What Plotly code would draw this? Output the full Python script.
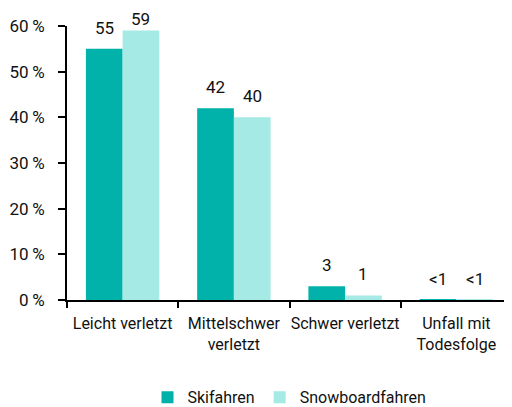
import plotly.graph_objects as go

categories = ["Leicht verletzt", "Mittelschwer<br>verletzt", "Schwer verletzt", "Unfall mit<br>Todesfolge"]
ski_values = [55, 42, 3, 0.1]
snow_values = [59, 40, 1, 0.1]
ski_labels = ["55", "42", "3", "<1"]
snow_labels = ["59", "40", "1", "<1"]
y_ticks = [0, 10, 20, 30, 40, 50, 60]

FONT = "Roboto, sans-serif"
SKI_COLOR = "#00B2A9"
SNOW_COLOR = "#A5EAE4"

FIG_W, FIG_H = 504, 399
M_L, M_R, M_T, M_B = 59, 0, 18, 107
Y_MAX = 60
BARGAP = 0.34

fig = go.Figure()
fig.add_trace(go.Bar(name="Skifahren", x=categories, y=ski_values,
                     marker_color=SKI_COLOR, marker_line_width=0))
fig.add_trace(go.Bar(name="Snowboardfahren", x=categories, y=snow_values,
                     marker_color=SNOW_COLOR, marker_line_width=0))

# value labels above the bars (offset to each bar of the group)
plot_w = FIG_W - M_L - M_R
plot_h = FIG_H - M_T - M_B
bar_px = plot_w / len(categories) * (1 - BARGAP) / 2
for values, labels, sign in [(ski_values, ski_labels, -1), (snow_values, snow_labels, 1)]:
    for cat, v, lab in zip(categories, values, labels):
        bar_top = M_T + (Y_MAX - v) / Y_MAX * plot_h
        shift = min(9, bar_top - 23)  # keep labels inside the figure
        fig.add_annotation(x=cat, y=v, text=lab, showarrow=False, xref="x", yref="y",
                           xanchor="center", yanchor="bottom", xshift=sign * bar_px / 2,
                           yshift=shift, font=dict(size=17, color="#111111"))

# page body adds 8px offset; figure sized to fit 512x407 window
fig.update_layout(
    width=FIG_W, height=FIG_H,
    margin=dict(l=M_L, r=M_R, t=M_T, b=M_B, autoexpand=False),
    paper_bgcolor="white", plot_bgcolor="white",
    font=dict(family=FONT, size=16, color="#111111"),
    barmode="group", bargap=BARGAP, bargroupgap=0,
    legend=dict(orientation="h", x=0.5, xanchor="center", y=-0.355, yanchor="middle",
                font=dict(size=16), traceorder="normal"),
    showlegend=True,
)
fig.update_yaxes(range=[0, Y_MAX], tickvals=y_ticks, ticktext=[f"{v}\u2009%" for v in y_ticks],
                 showgrid=False, showline=True, linecolor="black", linewidth=2,
                 ticks="outside", ticklen=7, tickwidth=2, tickcolor="black", zeroline=False,
                 tickfont=dict(size=17), ticklabelstandoff=10, automargin=False)
fig.update_xaxes(showgrid=False, showline=True, linecolor="black", linewidth=1.5,
                 ticks="outside", tickson="boundaries", ticklen=6, tickwidth=1.5,
                 tickcolor="black", tickangle=0, ticklabelstandoff=8, automargin=False)

fig.write_html("out.html")
